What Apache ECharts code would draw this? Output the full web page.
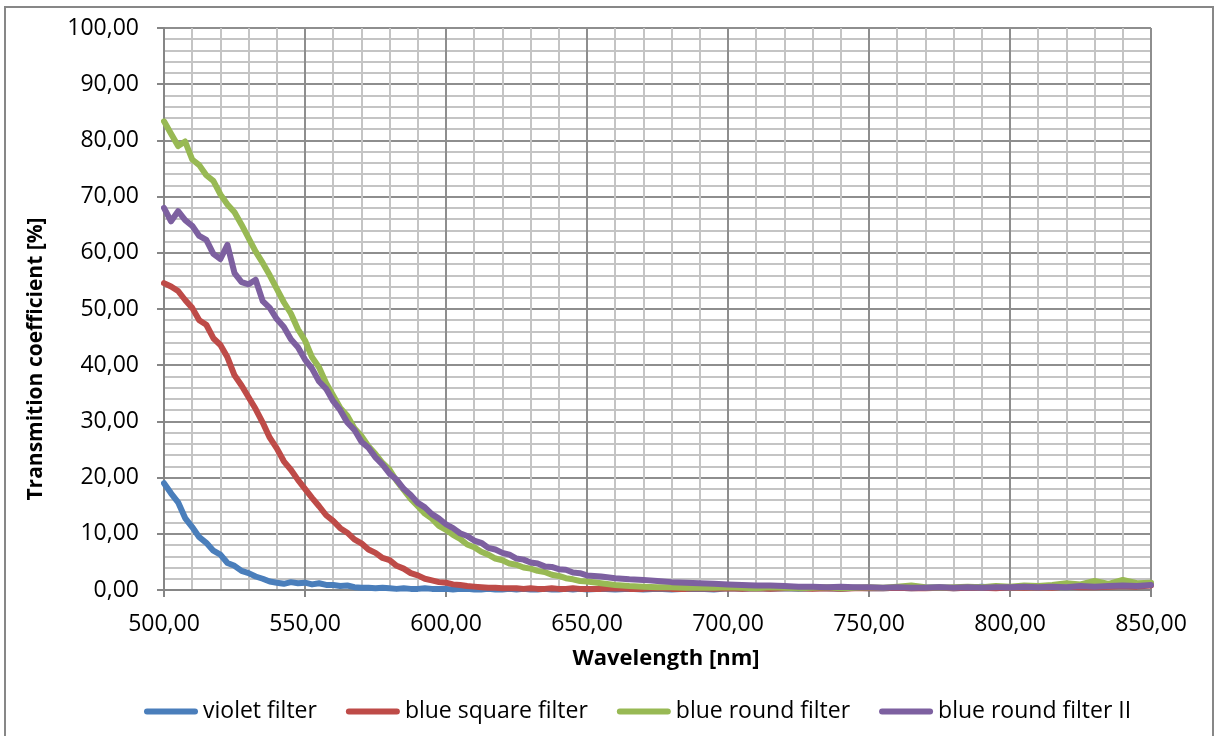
<!DOCTYPE html>
<html>
<head>
<meta charset="utf-8">
<script src="https://cdn.jsdelivr.net/npm/echarts@6/dist/echarts.min.js"></script>
<style>
  html, body { margin: 0; padding: 0; background: #fff; }
  #chart { width: 1215px; height: 736px; }
</style>
</head>
<body>
<div id="chart"></div>
<script>
// wavelengths [nm]: 2.5 nm step up to 650, then 5 nm step
const wavelengths = [
  500, 502.5, 505, 507.5, 510, 512.5, 515, 517.5, 520, 522.5,
  525, 527.5, 530, 532.5, 535, 537.5, 540, 542.5, 545, 547.5,
  550, 552.5, 555, 557.5, 560, 562.5, 565, 567.5, 570, 572.5,
  575, 577.5, 580, 582.5, 585, 587.5, 590, 592.5, 595, 597.5,
  600, 602.5, 605, 607.5, 610, 612.5, 615, 617.5, 620, 622.5,
  625, 627.5, 630, 632.5, 635, 637.5, 640, 642.5, 645, 647.5,
  650,
  655, 660, 665, 670, 675, 680, 685, 690, 695, 700,
  705, 710, 715, 720, 725, 730, 735, 740, 745, 750,
  755, 760, 765, 770, 775, 780, 785, 790, 795, 800,
  805, 810, 815, 820, 825, 830, 835, 840, 845, 850
];

const violetFilter = [
  19.0, 17.2, 15.6, 12.8, 11.2, 9.4, 8.4, 7.0, 6.3, 4.8,
  4.3, 3.4, 3.0, 2.4, 2.0, 1.5, 1.3, 1.1, 1.4, 1.2,
  1.3, 1.0, 1.2, 0.9, 0.9, 0.7, 0.8, 0.5, 0.4, 0.4,
  0.3, 0.4, 0.3, 0.2, 0.3, 0.2, 0.2, 0.3, 0.2, 0.2,
  0.2, 0.1, 0.2, 0.2, 0.1, 0.1, 0.2, 0.1, 0.1, 0.2,
  0.1, 0.2, 0.1, 0.1, 0.2, 0.1, 0.1, 0.2, 0.1, 0.2,
  0.1,
  0.2, 0.1, 0.2, 0.1, 0.2, 0.1, 0.2, 0.2, 0.1, 0.3,
  0.2, 0.3, 0.2, 0.3, 0.2, 0.3, 0.3, 0.2, 0.4, 0.3,
  0.3, 0.4, 0.3, 0.4, 0.5, 0.3, 0.4, 0.6, 0.4, 0.5,
  0.6, 0.5, 0.7, 0.6, 0.8, 0.9, 0.7, 1.0, 0.9, 1.1
];

const blueSquareFilter = [
  54.6, 54.0, 53.2, 51.6, 50.2, 48.0, 47.2, 44.8, 43.6, 41.4,
  38.2, 36.4, 34.3, 32.2, 29.8, 27.1, 25.2, 22.9, 21.4, 19.6,
  18.0, 16.4, 14.9, 13.3, 12.3, 11.0, 10.2, 9.0, 8.3, 7.2,
  6.6, 5.7, 5.3, 4.3, 3.8, 3.0, 2.6, 2.0, 1.7, 1.4,
  1.3, 1.0, 0.9, 0.7, 0.6, 0.5, 0.4, 0.4, 0.3, 0.3,
  0.3, 0.2, 0.3, 0.2, 0.2, 0.3, 0.2, 0.2, 0.3, 0.2,
  0.2,
  0.2, 0.3, 0.2, 0.2, 0.3, 0.2, 0.2, 0.3, 0.2, 0.3,
  0.2, 0.3, 0.2, 0.3, 0.3, 0.2, 0.3, 0.2, 0.3, 0.3,
  0.3, 0.4, 0.3, 0.3, 0.4, 0.3, 0.4, 0.4, 0.3, 0.5,
  0.4, 0.5, 0.4, 0.6, 0.5, 0.5, 0.6, 0.7, 0.6, 0.8
];

const blueRoundFilter = [
  83.4, 81.2, 79.0, 79.8, 76.6, 75.6, 73.8, 72.8, 70.4, 68.6,
  67.2, 65.0, 62.6, 60.2, 58.2, 56.0, 53.6, 51.2, 49.2, 46.4,
  44.4, 41.4, 39.6, 36.8, 34.6, 32.4, 31.0, 28.8, 27.4, 25.6,
  24.2, 22.6, 21.4, 19.4, 17.8, 16.2, 14.9, 13.6, 12.7, 11.4,
  10.7, 9.8, 9.1, 8.1, 7.6, 6.8, 6.3, 5.6, 5.3, 4.7,
  4.5, 4.0, 3.8, 3.4, 3.2, 2.7, 2.5, 2.1, 1.9, 1.6,
  1.5,
  1.2, 0.9, 0.7, 0.6, 0.5, 0.5, 0.4, 0.4, 0.4, 0.5,
  0.4, 0.3, 0.5, 0.4, 0.3, 0.4, 0.5, 0.3, 0.4, 0.5,
  0.4, 0.6, 0.8, 0.5, 0.4, 0.5, 0.6, 0.5, 0.7, 0.6,
  0.8, 0.7, 0.9, 1.2, 1.0, 1.6, 1.1, 1.8, 1.2, 1.3
];

const blueRoundFilterII = [
  68.0, 65.6, 67.4, 65.8, 64.8, 63.0, 62.3, 59.8, 58.9, 61.4,
  56.4, 54.8, 54.4, 55.2, 51.4, 50.2, 48.2, 46.8, 44.6, 43.2,
  41.0, 39.4, 37.1, 35.8, 33.6, 32.0, 29.8, 28.5, 26.4, 25.3,
  23.6, 22.3, 20.7, 19.6, 18.0, 16.9, 15.5, 14.7, 13.5, 12.7,
  11.7, 11.0, 10.1, 9.6, 8.8, 8.4, 7.5, 7.2, 6.6, 6.3,
  5.6, 5.4, 4.9, 4.7, 4.2, 4.1, 3.7, 3.6, 3.1, 3.0,
  2.6,
  2.4, 2.1, 1.9, 1.8, 1.6, 1.4, 1.3, 1.2, 1.1, 1.0,
  0.9, 0.8, 0.8, 0.7, 0.6, 0.6, 0.5, 0.6, 0.5, 0.5,
  0.4, 0.5, 0.4, 0.4, 0.5, 0.4, 0.5, 0.4, 0.5, 0.5,
  0.6, 0.5, 0.6, 0.5, 0.7, 0.6, 0.7, 0.8, 0.7, 0.9
];

const seriesNames = ['violet filter', 'blue square filter', 'blue round filter', 'blue round filter II'];
const seriesColors = ['#4A7EBB', '#BE4B48', '#98B954', '#7D60A0'];
const seriesValues = [violetFilter, blueSquareFilter, blueRoundFilter, blueRoundFilterII];

const FONT = '"Open Sans", "Liberation Sans", sans-serif';
const fmt = v => v.toFixed(2).replace('.', ',');

function buildSeries() {
  return seriesNames.map((name, i) => ({
    name: name,
    type: 'line',
    showSymbol: false,
    symbol: 'none',
    animation: false,
    data: wavelengths.map((w, j) => [w, seriesValues[i][j]]),
    lineStyle: { color: seriesColors[i], width: 6, cap: 'round', join: 'round' },
    itemStyle: { color: seriesColors[i] }
  }));
}

const chart = echarts.init(document.getElementById('chart'));

chart.setOption({
  backgroundColor: '#fff',
  animation: false,
  graphic: [{
    type: 'rect',
    shape: { x: 5, y: 7, width: 1208, height: 740 },
    style: { fill: 'none', stroke: '#878787', lineWidth: 2 },
    silent: true
  }],
  grid: { left: 164, right: 64, top: 28, bottom: 146 },
  legend: {
    left: 139,
    top: 695,
    itemWidth: 54,
    itemHeight: 14,
    itemGap: 29,
    textStyle: { fontFamily: FONT, fontSize: 23, color: '#000' },
    data: seriesNames.map(n => ({
      name: n,
      icon: 'path://M3,0 L51,0 A3,3 0 0 1 51,6 L3,6 A3,3 0 0 1 3,0 Z'
    }))
  },
  xAxis: {
    type: 'value',
    min: 500,
    max: 850,
    interval: 50,
    name: 'Wavelength [nm]',
    nameLocation: 'middle',
    nameGap: 58,
    nameTextStyle: { fontFamily: FONT, fontSize: 22, fontWeight: 'bold', color: '#000', padding: [0, 0, 0, 17] },
    axisLine: { show: true, lineStyle: { color: '#868686', width: 2 } },
    axisTick: { show: true, length: 7, lineStyle: { color: '#868686', width: 2 } },
    axisLabel: { formatter: fmt, fontFamily: FONT, fontSize: 23, color: '#000', margin: 23 },
    splitLine: { show: true, lineStyle: { color: '#8E8E8E', width: 2 } },
    minorTick: { show: false, splitNumber: 5 },
    minorSplitLine: { show: true, lineStyle: { color: '#C4C4C4', width: 2 } }
  },
  yAxis: {
    type: 'value',
    min: 0,
    max: 100,
    interval: 10,
    name: 'Transmition coefficient [%]',
    nameLocation: 'middle',
    nameGap: 117,
    nameTextStyle: { fontFamily: FONT, fontSize: 21, fontWeight: 'bold', color: '#000', padding: [0, 100, 0, 0] },
    axisLine: { show: true, lineStyle: { color: '#868686', width: 2 } },
    axisTick: { show: true, length: 7, lineStyle: { color: '#868686', width: 2 } },
    axisLabel: { formatter: fmt, fontFamily: FONT, fontSize: 23, color: '#000', margin: 25 },
    splitLine: { show: true, lineStyle: { color: '#8E8E8E', width: 2 } },
    minorTick: { show: false, splitNumber: 5 },
    minorSplitLine: { show: true, lineStyle: { color: '#C4C4C4', width: 2 } }
  },
  series: buildSeries()
});
</script>
</body>
</html>
